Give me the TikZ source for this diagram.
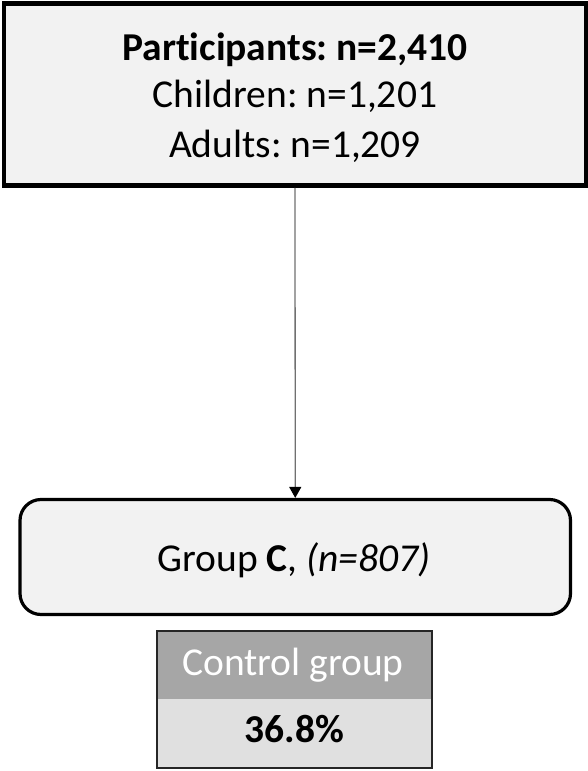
\documentclass[tikz,border=0pt]{standalone}
\usepackage{fontspec}
\setmainfont{Carlito}[Ligatures=NoCommon]
\usetikzlibrary{arrows.meta}
\frenchspacing
\definecolor{boxfill}{HTML}{F2F2F2}
\definecolor{headfill}{HTML}{A6A6A6}
\definecolor{lowfill}{HTML}{E0E0E0}
\definecolor{linegray}{HTML}{707070}
\definecolor{ctrlborder}{HTML}{262626}
\begin{document}
\begin{tikzpicture}[x=1pt,y=-1pt,
  topbox/.style={draw=black,fill=boxfill,line width=4.6pt,inner sep=0pt},
  grpbox/.style={draw=black,fill=boxfill,line width=3.2pt,rounded corners=21pt,inner sep=0pt},
  cellbox/.style={draw=none,inner sep=0pt},
  txt/.style={anchor=base,inner sep=0pt,font=\fontsize{39.5}{47}\selectfont},
  arrowline/.style={draw=linegray,line width=1.3pt,-{Triangle[length=11pt,width=12pt,black]}}
]
\useasboundingbox (0,0) rectangle (588,771);
% top box
\node[topbox,minimum width=582pt,minimum height=181.8pt] (top) at (295,94.6) {};
\node[txt] (t1) at (295,60) {\bfseries Participants: n=2,410};
\node[txt] (t2) at (295,107) {Children: n=1,201};
\node[txt] (t3) at (295,157) {Adults: n=1,209};
% group box
\node[grpbox,minimum width=550.5pt,minimum height=115pt] (grp) at (295.25,557) {};
\node[txt] (g1) at (294,571) {Group \textbf{C}, \textit{(n=807)}};
% arrow
\draw[arrowline] (top.south) -- (grp.north);
% control box
\node[cellbox,fill=headfill,minimum width=275pt,minimum height=68pt] (head) at (294.5,665) {};
\node[cellbox,fill=lowfill,minimum width=275pt,minimum height=69pt] (low) at (294.5,733.5) {};
\draw[draw=ctrlborder,line width=1.6pt] (head.north west) rectangle (low.south east);
\node[txt,text=white] (c1) at (293,675) {Control group};
\node[txt] (c2) at (294.5,742) {\bfseries 36.8\%};
\end{tikzpicture}
\end{document}
